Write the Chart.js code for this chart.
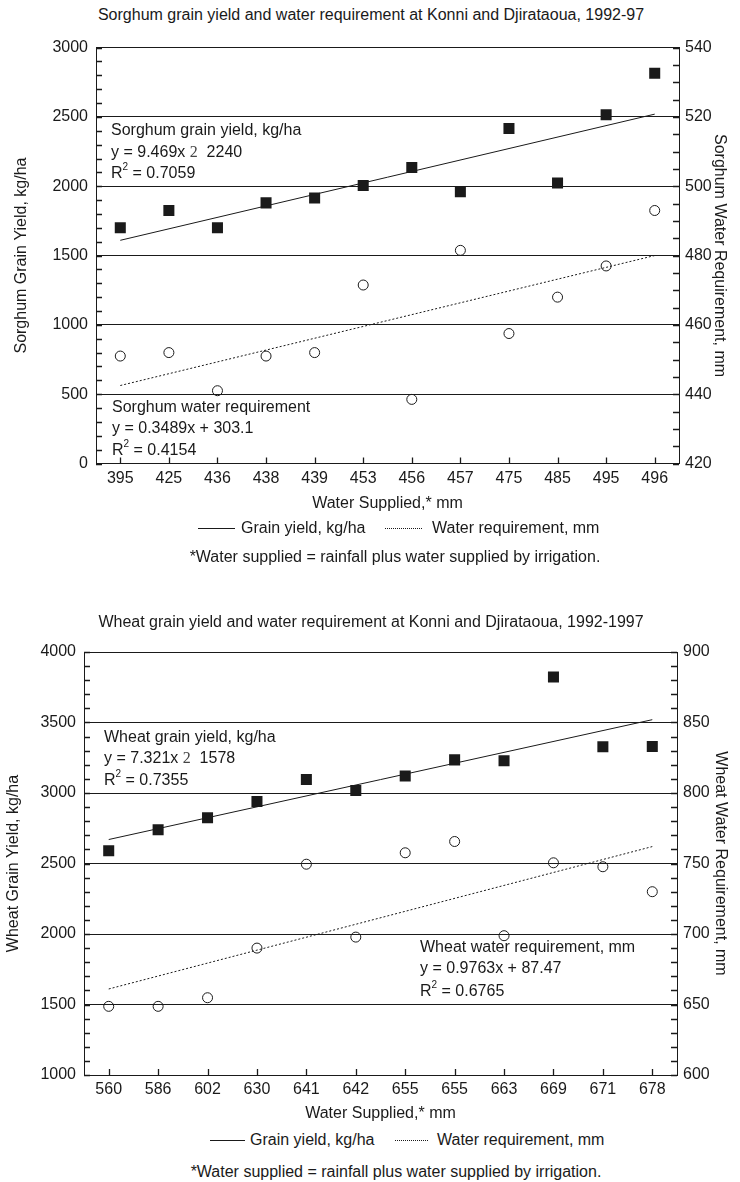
<!DOCTYPE html>
<html>
<head>
<meta charset="utf-8">
<script src="https://cdn.jsdelivr.net/npm/chart.js@4.4.0/dist/chart.umd.min.js"></script>
<style>
body { margin: 0; background: #fff; font-family: "Liberation Sans", Arial, sans-serif; color: #1a1a1a; }
#page { position: relative; width: 740px; height: 1182px; overflow: hidden; }
.t { position: absolute; white-space: nowrap; line-height: 1; font-size: 16px; transform: translateY(-50%); }
.c { transform: translate(-50%, -50%); }
.title { font-size: 16px; }
.m { font-family: "Liberation Serif", "DejaVu Serif", serif; color: #444; }
sup { font-size: 10px; vertical-align: top; line-height: 1; position: relative; top: -3px; }
.ln { position: absolute; height: 0; border-top: 1px solid #1a1a1a; }
.ln.dot { border-top: 1px dotted #1a1a1a; }
canvas { position: absolute; left: 0; }
</style>
</head>
<body>
<div id="page">
  <canvas id="sorghum" width="740" height="490" style="top:30px"></canvas>
  <canvas id="wheat" width="740" height="525" style="top:600px"></canvas>
</div>
<script>
// sorghum (top chart)
const sorghumSupplied = ["395", "425", "436", "438", "439", "453", "456", "457", "475", "485", "495", "496"];
const sorghumYield = [1700, 1825, 1700, 1880, 1915, 2005, 2135, 1960, 2417, 2024, 2515, 2815];
const sorghumWater = [451, 452, 441, 451, 452, 471.5, 438.5, 481.5, 457.5, 468, 477, 493];
const sorghumYieldTrend = [1610, 2520];
const sorghumWaterTrend = [442.5, 480];

// wheat (bottom chart)
const wheatSupplied = ["560", "586", "602", "630", "641", "642", "655", "655", "663", "669", "671", "678"];
const wheatYield = [2590, 2740, 2825, 2940, 3095, 3018, 3120, 3235, 3228, 3822, 3328, 3330];
const wheatWater = [648.7, 648.7, 654.8, 690, 749.5, 697.8, 757.6, 765.6, 698.8, 750.5, 747.7, 730];
const wheatYieldTrend = [2670, 3520];
const wheatWaterTrend = [661, 762];

const INK = "#1a1a1a";
Chart.defaults.font.family = '"Liberation Sans", Arial, sans-serif';
Chart.defaults.color = INK;

function trend(n, ends) {
  const d = new Array(n).fill(null);
  d[0] = ends[0];
  d[n - 1] = ends[1];
  return d;
}

// small tick marks drawn inside the plot frame
const innerTicks = {
  id: "innerTicks",
  afterDraw(chart, args, opts) {
    const ctx = chart.ctx, a = chart.chartArea;
    const { x, y, y2 } = chart.scales;
    const leftStep = opts.left || 100, rightStep = opts.right || 10;
    ctx.save();
    ctx.strokeStyle = INK;
    ctx.lineWidth = 1.3;
    ctx.beginPath();
    for (let v = y.min; v <= y.max; v += leftStep) {
      const p = Math.round(y.getPixelForValue(v)) + 0.5;
      ctx.moveTo(a.left, p); ctx.lineTo(a.left + 6, p);
    }
    for (let v = y2.min; v <= y2.max; v += rightStep) {
      const p = Math.round(y2.getPixelForValue(v)) + 0.5;
      ctx.moveTo(a.right, p); ctx.lineTo(a.right - 6, p);
    }
    for (let i = 0; i < x.ticks.length; i++) {
      const p = Math.round(x.getPixelForTick(i)) + 0.5;
      ctx.moveTo(p, a.bottom); ctx.lineTo(p, a.bottom - 6);
    }
    ctx.stroke();
    ctx.restore();
  }
};

function plain(v) { return String(v); }

function makeChart(id, labels, yieldVals, waterVals, yieldTr, waterTr, ax) {
  const n = labels.length;
  return new Chart(document.getElementById(id), {
    type: "line",
    data: {
      labels: labels,
      datasets: [
        {
          data: yieldVals, yAxisID: "y", showLine: false, order: 0,
          pointStyle: "rect", pointRadius: 7.8, backgroundColor: INK, borderColor: INK, borderWidth: 0
        },
        {
          data: waterVals, yAxisID: "y2", showLine: false, order: 0,
          pointStyle: "circle", pointRadius: 5, backgroundColor: "rgba(0,0,0,0)", borderColor: INK, borderWidth: 1
        },
        {
          data: trend(n, yieldTr), yAxisID: "y", spanGaps: true, order: 1,
          borderColor: INK, borderWidth: 1, pointRadius: 0
        },
        {
          data: trend(n, waterTr), yAxisID: "y2", spanGaps: true, order: 1,
          borderColor: INK, borderWidth: 1, borderDash: [2, 2], pointRadius: 0
        }
      ]
    },
    options: {
      responsive: false,
      animation: false,
      layout: { padding: { top: ax.padTop, left: 0, right: 0, bottom: 0 } },
      plugins: {
        legend: { display: false },
        tooltip: { enabled: false },
        innerTicks: { left: ax.leftMinor, right: ax.rightMinor }
      },
      scales: {
        x: {
          type: "category",
          offset: true,
          grid: { display: false, drawTicks: false },
          border: { display: true, color: INK },
          ticks: { font: { size: 16 }, padding: 5, maxRotation: 0, autoSkip: false },
          title: { display: true, text: "Water Supplied,* mm", font: { size: 16 }, padding: { top: 0, bottom: ax.xTitlePad } },
          afterFit(s) { s.height = ax.xH; }
        },
        y: {
          position: "left",
          min: ax.yMin, max: ax.yMax,
          ticks: { stepSize: ax.yStep, font: { size: 16 }, padding: 8, callback: plain },
          grid: { color: INK, lineWidth: 1, drawTicks: false },
          border: { display: true, color: INK },
          title: { display: true, text: ax.leftTitle, font: { size: 16 }, padding: { top: ax.leftTitlePad, bottom: 0 } },
          afterFit(s) { s.width = ax.leftW; }
        },
        y2: {
          position: "right",
          min: ax.y2Min, max: ax.y2Max,
          ticks: { stepSize: ax.y2Step, font: { size: 16 }, padding: 6, callback: plain },
          grid: { display: false, drawTicks: false },
          border: { display: true, color: INK },
          title: { display: true, text: ax.rightTitle, font: { size: 16 }, padding: { top: ax.rightTitlePad, bottom: 0 } },
          afterFit(s) { s.width = ax.rightW; }
        }
      }
    },
    plugins: [innerTicks]
  });
}

makeChart("sorghum", sorghumSupplied, sorghumYield, sorghumWater, sorghumYieldTrend, sorghumWaterTrend, {
  yMin: 0, yMax: 3000, yStep: 500, leftMinor: 100,
  y2Min: 420, y2Max: 540, y2Step: 20, rightMinor: 5,
  leftW: 96, rightW: 61, xH: 56.5, padTop: 16.5, xTitlePad: 7,
  leftTitle: "Sorghum Grain Yield, kg/ha", leftTitlePad: 12.4,
  rightTitle: "Sorghum Water Requirement, mm", rightTitlePad: 11.4
});

makeChart("wheat", wheatSupplied, wheatYield, wheatWater, wheatYieldTrend, wheatWaterTrend, {
  yMin: 1000, yMax: 4000, yStep: 500, leftMinor: 100,
  y2Min: 600, y2Max: 900, y2Step: 50, rightMinor: 10,
  leftW: 84, rightW: 63, xH: 50, padTop: 52, xTitlePad: 1.5,
  leftTitle: "Wheat Grain Yield, kg/ha", leftTitlePad: 4.4,
  rightTitle: "Wheat Water Requirement, mm", rightTitlePad: 10.4
});

// text outside / on top of the plots
const page = document.getElementById("page");
function put(html, x, y, cls) {
  const d = document.createElement("div");
  d.className = "t" + (cls ? " " + cls : "");
  d.style.left = x + "px";
  d.style.top = y + "px";
  d.innerHTML = html;
  page.appendChild(d);
}
function line(x1, x2, y, dotted) {
  const d = document.createElement("div");
  d.className = "ln" + (dotted ? " dot" : "");
  d.style.left = x1 + "px";
  d.style.width = (x2 - x1) + "px";
  d.style.top = y + "px";
  page.appendChild(d);
}

put("Sorghum grain yield and water requirement at Konni and Djirataoua, 1992-97", 371, 15, "c title");
put("Sorghum grain yield, kg/ha", 111, 130);
put('y = 9.469x <span class="m">2</span>&nbsp;&nbsp;2240', 111, 152);
put("R<sup>2</sup> = 0.7059", 111, 173);
put("Sorghum water requirement", 112, 407);
put("y = 0.3489x + 303.1", 112, 428);
put("R<sup>2</sup> = 0.4154", 112, 450);
line(198, 235, 528, false);
put("Grain yield, kg/ha", 241, 528);
line(385, 422, 528, true);
put("Water requirement, mm", 432, 528);
put("*Water supplied = rainfall plus water supplied by irrigation.", 395, 557, "c");

put("Wheat grain yield and water requirement at Konni and Djirataoua, 1992-1997", 371, 622, "c title");
put("Wheat grain yield, kg/ha", 104, 737);
put('y = 7.321x <span class="m">2</span>&nbsp;&nbsp;1578', 104, 758);
put("R<sup>2</sup> = 0.7355", 104, 780);
put("Wheat water requirement, mm", 420, 947);
put("y = 0.9763x + 87.47", 420, 968);
put("R<sup>2</sup> = 0.6765", 420, 991);
line(210, 245, 1140, false);
put("Grain yield, kg/ha", 250, 1140);
line(395, 428, 1140, true);
put("Water requirement, mm", 437, 1140);
put("*Water supplied = rainfall plus water supplied by irrigation.", 396, 1172, "c");
</script>
</body>
</html>
